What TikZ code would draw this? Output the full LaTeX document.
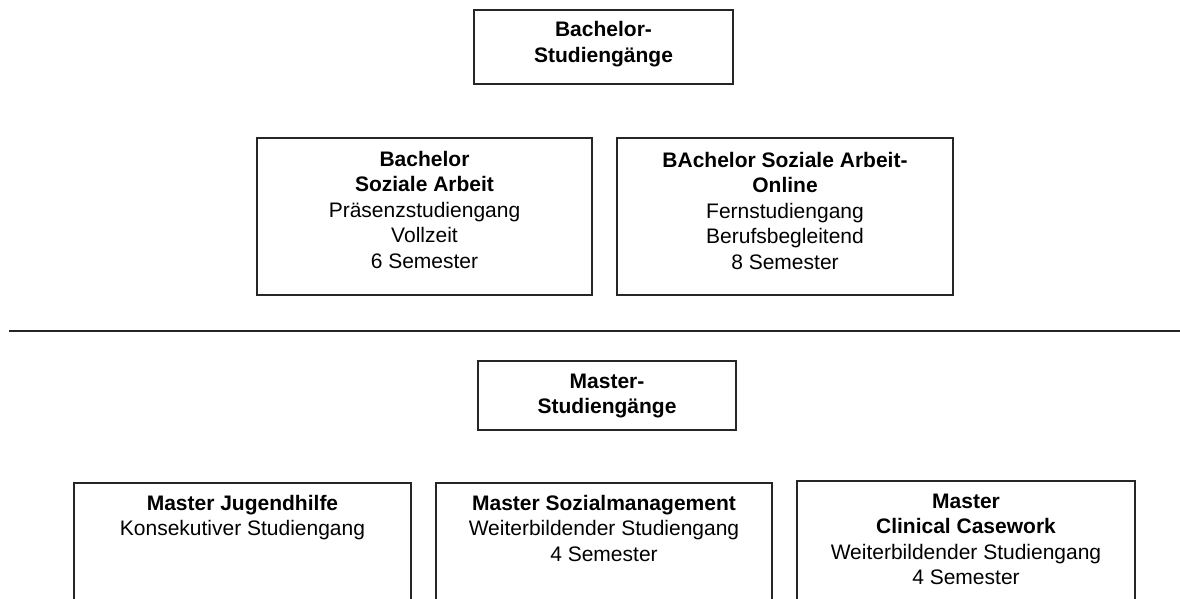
\documentclass[tikz,border=0pt]{standalone}
\usepackage{fontspec}
\setmainfont{Liberation Sans}
\newcommand\fs{\rule{0pt}{17pt}}
\begin{document}
\begin{tikzpicture}[x=1pt,y=-1pt,
  box/.style={draw=black!85, line width=1.1pt, inner sep=0pt, outer sep=0pt, anchor=north west},
  txt/.style={anchor=north, align=center, inner sep=0pt, outer sep=0pt, font=\fontsize{21}{25.5}\selectfont},
  sep/.style={draw=black!85, line width=1.1pt}]
\useasboundingbox (0,0) rectangle (1180,599);
\clip (0,0) rectangle (1180,599);
% Bachelor section
\node[box, minimum width=259pt, minimum height=74pt] (bsbox) at (474,10) {};
\node[txt] (bstxt) at (603.5,20) {\fs\textbf{Bachelor-}\\\textbf{Studiengänge}};
\node[box, minimum width=335pt, minimum height=157pt] (sabox) at (257,138) {};
\node[txt] (satxt) at (424.5,149) {\fs\textbf{Bachelor}\\\textbf{Soziale Arbeit}\\Präsenzstudiengang\\Vollzeit\\6 Semester};
\node[box, minimum width=336pt, minimum height=157pt] (onbox) at (617,138) {};
\node[txt] (ontxt) at (785,150) {\fs\textbf{BAchelor Soziale Arbeit-}\\\textbf{Online}\\Fernstudiengang\\Berufsbegleitend\\8 Semester};
% separator
\coordinate (sepL) at (9,331);
\coordinate (sepR) at (1180,331);
\draw[sep] (sepL) -- (sepR);
% Master section
\node[box, minimum width=258pt, minimum height=69pt] (msbox) at (478,361) {};
\node[txt] (mstxt) at (607,371) {\fs\textbf{Master-}\\\textbf{Studiengänge}};
\node[box, minimum width=337pt, minimum height=150pt] (jhbox) at (74,483) {};
\node[txt] (jhtxt) at (242.5,493) {\fs\textbf{Master Jugendhilfe}\\Konsekutiver Studiengang};
\node[box, minimum width=336pt, minimum height=150pt] (smbox) at (436,483) {};
\node[txt] (smtxt) at (604,493) {\fs\textbf{Master Sozialmanagement}\\Weiterbildender Studiengang\\4 Semester};
\node[box, minimum width=338pt, minimum height=150pt] (ccbox) at (797,481) {};
\node[txt] (cctxt) at (966,491) {\fs\textbf{Master}\\\textbf{Clinical Casework}\\Weiterbildender Studiengang\\4 Semester};
\end{tikzpicture}
\end{document}
